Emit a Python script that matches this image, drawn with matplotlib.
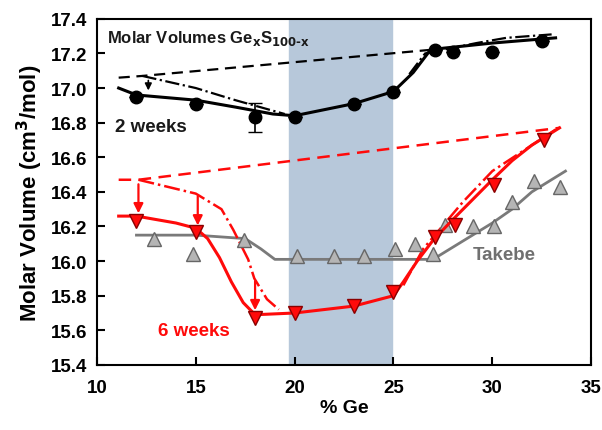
import matplotlib.pyplot as plt
from matplotlib.ticker import FormatStrFormatter

plt.rcParams['font.family'] = ['Liberation Sans', 'DejaVu Sans']
plt.rcParams['font.weight'] = 'bold'

# 2 weeks (black circles)
ge_2w = [12, 15, 18, 20, 23, 25, 27.1, 28, 30, 32.5]
mv_2w = [16.95, 16.91, 16.83, 16.83, 16.91, 16.98, 17.22, 17.21, 17.21, 17.27]
err_2w = [0, 0, 0.085, 0, 0, 0, 0, 0, 0, 0]
fit_2w_x = [11.1, 12, 15, 17, 18.9, 20, 23, 25, 26.0, 26.8, 27.5, 30, 33.2]
fit_2w_y = [17.0, 16.96, 16.93, 16.89, 16.85, 16.84, 16.91, 16.98, 17.09, 17.21, 17.23, 17.26, 17.29]
dash_2w_x = [11.1, 12.3, 26.8]
dash_2w_y = [17.06, 17.07, 17.22]
dd_2w_a_x = [12.3, 15, 17, 19.5]
dd_2w_a_y = [17.07, 17.0, 16.93, 16.85]
dd_2w_b_x = [25.8, 26.6, 29.2, 30.7, 33.0]
dd_2w_b_y = [17.08, 17.2, 17.26, 17.29, 17.31]

# 6 weeks (red triangles)
ge_6w = [12, 15, 18, 20, 23, 25, 27.1, 28.1, 30.1, 32.6]
mv_6w = [16.23, 16.17, 15.67, 15.70, 15.74, 15.82, 16.14, 16.21, 16.44, 16.70]
fit_6w_x = [11.1, 12, 14, 15, 15.6, 16.2, 16.8, 17.4, 18.0, 20, 23, 25, 25.5, 26.2, 27, 28, 30, 31, 32, 33.4]
fit_6w_y = [16.26, 16.26, 16.22, 16.19, 16.13, 16.02, 15.88, 15.76, 15.69, 15.70, 15.74, 15.80, 15.88, 16.0, 16.12, 16.24, 16.47, 16.58, 16.67, 16.77]
dash_6w_x = [11.1, 12.1, 33.4]
dash_6w_y = [16.47, 16.47, 16.77]
dd_6w_a_x = [12.1, 15, 16.3, 16.9, 17.65, 17.96, 18.6, 19.2]
dd_6w_a_y = [16.47, 16.39, 16.30, 16.18, 16.01, 15.90, 15.78, 15.72]
dd_6w_b_x = [25.5, 26.5, 28.5, 30, 33.2]
dd_6w_b_y = [15.86, 16.07, 16.34, 16.52, 16.76]

# Takebe (grey triangles)
ge_tk = [12.9, 14.85, 17.45, 20.1, 22.0, 23.5, 25.1, 26.1, 27.0, 27.6, 29.0, 30.1, 31.0, 32.1, 33.4]
mv_tk = [16.13, 16.04, 16.12, 16.03, 16.03, 16.03, 16.07, 16.10, 16.04, 16.21, 16.20, 16.20, 16.34, 16.46, 16.43]
fit_tk_x = [12, 15, 17.5, 18.3, 19, 20, 27, 28, 29, 30, 31, 32, 33.7]
fit_tk_y = [16.15, 16.15, 16.13, 16.07, 16.01, 16.01, 16.01, 16.08, 16.15, 16.22, 16.30, 16.40, 16.52]

# arrows (x, from, to)
arrows_2w = [(12.6, 17.06, 16.97)]
arrows_6w = [(12.1, 16.46, 16.26), (15.1, 16.39, 16.19), (18.0, 15.90, 15.70)]

red = '#ff0a0a'
fig = plt.figure(figsize=(6.02, 4.31), dpi=100)
ax = fig.add_axes([0.161, 0.151, 0.821, 0.803])

ax.axvspan(19.7, 24.95, color='#b7c8da', zorder=0)

ax.plot(fit_tk_x, fit_tk_y, color='#7a7a7a', lw=2, zorder=2)
ax.plot(ge_tk, mv_tk, '^', ms=10, mfc='#b5b5b5', mec='#666666', mew=1, zorder=3)

ax.plot(dash_6w_x, dash_6w_y, '--', color=red, lw=1.8, dashes=(5, 3))
ax.plot(dd_6w_a_x, dd_6w_a_y, '-.', color=red, lw=1.8)
ax.plot(dd_6w_b_x, dd_6w_b_y, '-.', color=red, lw=1.8)
ax.plot(fit_6w_x, fit_6w_y, color=red, lw=2.2, zorder=4)
ax.plot(ge_6w, mv_6w, 'v', ms=10, mfc=red, mec='#8a0000', mew=1, zorder=5)

ax.plot(dash_2w_x, dash_2w_y, '--', color='black', lw=1.6, dashes=(5, 3))
ax.plot(dd_2w_a_x, dd_2w_a_y, '-.', color='black', lw=1.6)
ax.plot(dd_2w_b_x, dd_2w_b_y, '-.', color='black', lw=1.6)
ax.plot(fit_2w_x, fit_2w_y, color='black', lw=2.2, zorder=4)
ax.errorbar(ge_2w, mv_2w, yerr=err_2w, fmt='o', ms=9, color='black', ecolor='black',
            elinewidth=1.2, capsize=5, zorder=5)

for x, y0, y1 in arrows_2w:
    ax.annotate('', xy=(x, y1), xytext=(x, y0),
                arrowprops=dict(arrowstyle='-|>', color='black', lw=1.2, mutation_scale=10))
for x, y0, y1 in arrows_6w:
    ax.annotate('', xy=(x, y1), xytext=(x, y0),
                arrowprops=dict(arrowstyle='-|>', color=red, lw=1.6, mutation_scale=14))

ax.text(10.5, 17.29, r'Molar Volumes Ge$_{\mathbf{x}}$S$_{\mathbf{100\text{-}x}}$', fontsize=12,
        fontweight='bold', color='#1a1a1a', va='center')
ax.text(10.9, 16.78, '2 weeks', fontsize=13.5, fontweight='bold', color='#1a1a1a', va='center')
ax.text(13.1, 15.6, '6 weeks', fontsize=13.5, fontweight='bold', color=red, va='center')
ax.text(29.0, 16.04, 'Takebe', fontsize=13.5, fontweight='bold', color='#707070', va='center')

ax.set_xlim(10, 35)
ax.set_ylim(15.4, 17.4)
ax.set_xticks([10, 15, 20, 25, 30, 35])
ax.set_yticks([15.4, 15.6, 15.8, 16.0, 16.2, 16.4, 16.6, 16.8, 17.0, 17.2, 17.4])
ax.yaxis.set_major_formatter(FormatStrFormatter('%.1f'))
ax.tick_params(direction='in', length=6, width=1.5, labelsize=13.5)
ax.tick_params(axis='x', pad=10)
ax.tick_params(axis='y', pad=7)
for s in ax.spines.values():
    s.set_linewidth(1.5)
ax.set_xlabel('% Ge', fontsize=14, fontweight='bold', labelpad=2)
ax.set_ylabel('Molar Volume (cm$^\\mathbf{3}$/mol)', fontsize=16, fontweight='bold', labelpad=4)

fig.savefig('out.png', dpi=100)
